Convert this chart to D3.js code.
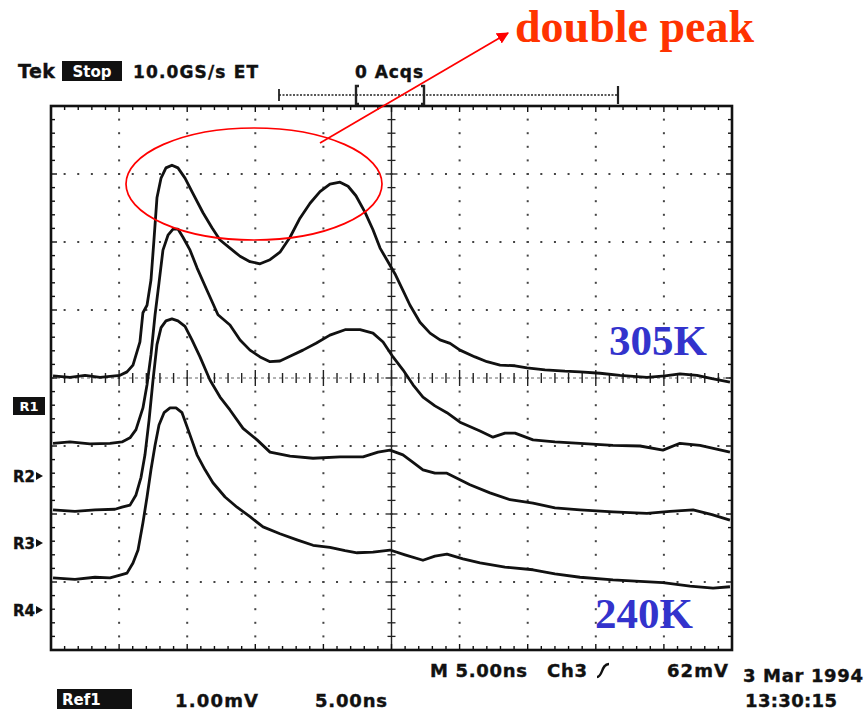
<!DOCTYPE html>
<html>
<head>
<meta charset="utf-8">
<script src="https://cdn.jsdelivr.net/npm/d3@7"></script>
<style>
  body { margin: 0; background: #fff; }
  .scope { font-family: "DejaVu Sans", sans-serif; font-weight: bold; fill: #111; stroke: #111; stroke-width: 0.4; }
  .note { font-family: "Liberation Serif", "Times New Roman", serif; font-weight: bold; }
</style>
</head>
<body>
<script>
// traces: [time in ns, level in divisions (1 div = 1 mV)]
const traceR1 = [
  [0.15,0.03],[1.39,0.01],[2.50,0.04],[3.60,0.01],[5.07,0.04],[5.58,0.09],[6.02,0.19],[6.53,0.53],
  [6.75,0.96],[7.05,1.07],[7.34,1.44],[7.56,2.03],[7.78,2.65],[8.08,2.94],[8.44,3.09],[8.88,3.13],
  [9.32,3.09],[9.84,2.94],[10.35,2.74],[11.16,2.43],[11.82,2.21],[12.41,2.03],[13.14,1.91],[13.88,1.79],
  [14.61,1.71],[15.35,1.68],[16.08,1.74],[16.81,1.85],[17.55,2.07],[18.28,2.35],[19.02,2.57],[19.75,2.74],
  [20.48,2.85],[21.22,2.88],[21.81,2.82],[22.39,2.68],[23.05,2.44],[23.64,2.18],[24.16,1.91],[24.74,1.71],
  [25.26,1.53],[25.84,1.29],[26.36,1.07],[27.09,0.82],[27.83,0.66],[28.56,0.56],[29.30,0.51],[30.03,0.41],
  [31.13,0.31],[32.01,0.24],[32.97,0.19],[34.07,0.18],[34.95,0.15],[36.27,0.12],[37.74,0.10],[38.84,0.09],
  [40.31,0.07],[41.78,0.04],[43.76,0.01],[45.08,0.03],[46.18,0.06],[47.43,0.04],[48.53,-0.01],[49.85,-0.06]
];
const traceR2 = [
  [0.15,-0.96],[1.39,-0.94],[2.86,-0.97],[4.33,-0.96],[5.21,-0.94],[5.80,-0.88],[6.24,-0.76],[6.75,-0.44],
  [7.05,-0.10],[7.34,0.34],[7.64,0.93],[7.93,1.40],[8.22,1.88],[8.59,2.10],[8.96,2.19],[9.32,2.19],
  [9.69,2.07],[10.21,1.88],[10.72,1.62],[11.45,1.29],[12.26,0.93],[13.14,0.78],[13.88,0.56],[14.61,0.41],
  [15.35,0.31],[16.08,0.24],[16.81,0.25],[17.55,0.32],[18.50,0.41],[19.46,0.51],[20.48,0.63],[21.59,0.71],
  [22.69,0.71],[23.64,0.66],[24.38,0.53],[25.11,0.31],[25.84,0.12],[26.58,-0.10],[27.31,-0.28],[28.19,-0.41],
  [29.07,-0.51],[30.03,-0.65],[31.50,-0.78],[32.45,-0.87],[33.33,-0.81],[34.07,-0.81],[35.39,-0.91],[37.00,-0.94],
  [38.84,-0.96],[41.26,-0.99],[43.25,-1.00],[44.93,-1.06],[46.18,-0.96],[47.65,-0.99],[49.85,-1.09]
];
const traceR3 = [
  [0.15,-1.94],[1.76,-1.96],[3.23,-1.94],[4.70,-1.93],[5.21,-1.90],[5.80,-1.87],[6.24,-1.72],[6.61,-1.46],
  [6.90,-1.13],[7.20,-0.62],[7.49,-0.03],[7.78,0.49],[8.08,0.74],[8.44,0.84],[8.88,0.87],[9.32,0.84],
  [9.84,0.76],[10.35,0.56],[10.94,0.31],[11.67,-0.03],[12.41,-0.28],[13.14,-0.47],[14.10,-0.74],[15.13,-0.91],
  [16.08,-1.09],[17.55,-1.15],[19.24,-1.18],[21.22,-1.16],[22.91,-1.16],[24.01,-1.09],[24.89,-1.06],[25.84,-1.13],
  [26.58,-1.24],[27.31,-1.35],[28.19,-1.40],[29.07,-1.40],[30.76,-1.57],[32.23,-1.69],[33.70,-1.79],[35.39,-1.84],
  [37.00,-1.91],[38.84,-1.94],[41.26,-1.97],[43.76,-1.99],[45.45,-1.96],[47.14,-1.94],[48.53,-2.01],[49.85,-2.09]
];
const traceR4 = [
  [0.15,-2.94],[1.76,-2.96],[3.23,-2.93],[4.33,-2.94],[5.07,-2.90],[5.58,-2.87],[6.02,-2.72],[6.39,-2.53],
  [6.75,-2.13],[7.05,-1.75],[7.34,-1.35],[7.64,-0.99],[7.93,-0.69],[8.30,-0.51],[8.74,-0.44],[9.18,-0.44],
  [9.62,-0.51],[10.21,-0.84],[10.72,-1.13],[11.31,-1.35],[11.89,-1.54],[12.78,-1.75],[13.66,-1.90],[14.61,-2.04],
  [15.57,-2.19],[16.81,-2.29],[18.06,-2.38],[19.24,-2.46],[20.48,-2.49],[21.59,-2.54],[22.47,-2.57],[23.64,-2.56],
  [24.89,-2.53],[25.99,-2.60],[27.31,-2.68],[28.19,-2.62],[29.07,-2.59],[30.25,-2.66],[31.50,-2.72],[33.33,-2.78],
  [35.39,-2.82],[37.00,-2.88],[38.84,-2.93],[41.26,-2.97],[43.25,-2.99],[44.93,-3.01],[46.92,-3.06],[48.61,-3.09],
  [49.85,-3.07]
];
const traces = [traceR1, traceR2, traceR3, traceR4];
const refNames = ["R1", "R2", "R3", "R4"];
const tempLabels = ["305K", "240K"];
const timeDomain = [0, 50];   // 10 div x 5.00 ns
const levelDomain = [-4, 4];  // 8 div x 1.00 mV

const W = 865, H = 715;
const svg = d3.select("body").append("svg")
    .attr("width", W).attr("height", H)
    .style("background", "#fff");

// scope screen scales
const x = d3.scaleLinear().domain(timeDomain).range([51, 732]);
const y = d3.scaleLinear().domain(levelDomain).range([650, 106]);

const majorT = d3.range(timeDomain[0], timeDomain[1] + 0.01, 5);
const minorT = d3.range(timeDomain[0], timeDomain[1] + 0.01, 1);
const majorV = d3.range(levelDomain[0], levelDomain[1] + 0.01, 1);
const minorV = d3.range(levelDomain[0], levelDomain[1] + 0.01, 0.2);

const grid = svg.append("g");

// dotted graticule lines
majorT.slice(1, -1).filter(t => t !== 25).forEach(t => {
  grid.selectAll(null).data(minorV).enter().append("rect")
    .attr("x", x(t) - 1).attr("y", d => y(d) - 1)
    .attr("width", 2).attr("height", 2)
    .attr("fill", "#444");
});
majorV.slice(1, -1).filter(v => v !== 0).forEach(v => {
  grid.selectAll(null).data(minorT).enter().append("rect")
    .attr("x", d => x(d) - 1).attr("y", y(v) - 1)
    .attr("width", 2).attr("height", 2)
    .attr("fill", "#444");
});

// centre lines with ticks
grid.append("line")
  .attr("x1", x(25)).attr("x2", x(25)).attr("y1", y(4)).attr("y2", y(-4))
  .attr("stroke", "#222").attr("stroke-width", 1.4);
grid.selectAll(".vtick").data(minorV).enter().append("line")
  .attr("class", "vtick")
  .attr("x1", d => x(25) - (Math.abs(d % 1) < 0.01 ? 6 : 4))
  .attr("x2", d => x(25) + (Math.abs(d % 1) < 0.01 ? 6 : 4))
  .attr("y1", d => y(d)).attr("y2", d => y(d))
  .attr("stroke", "#222").attr("stroke-width", 1.3);

grid.append("line")
  .attr("x1", x(0)).attr("x2", x(50)).attr("y1", y(0)).attr("y2", y(0))
  .attr("stroke", "#666").attr("stroke-width", 1).attr("stroke-dasharray", "3,3");
grid.selectAll(".htick").data(minorT).enter().append("line")
  .attr("class", "htick")
  .attr("x1", d => x(d)).attr("x2", d => x(d))
  .attr("y1", d => y(0) - (d % 5 === 0 ? 8 : 5))
  .attr("y2", d => y(0) + (d % 5 === 0 ? 8 : 5))
  .attr("stroke", "#222").attr("stroke-width", 1.4);

// border ticks
const tickLen = d => (d % 5 === 0 ? 6 : 4);
const tickLenV = d => (Math.abs(d % 1) < 0.01 ? 6 : 4);
grid.selectAll(".bt").data(minorT).enter().append("line")
  .attr("x1", d => x(d)).attr("x2", d => x(d))
  .attr("y1", y(-4)).attr("y2", d => y(-4) - tickLen(d))
  .attr("stroke", "#111").attr("stroke-width", 1.4);
grid.selectAll(".tt").data(minorT).enter().append("line")
  .attr("x1", d => x(d)).attr("x2", d => x(d))
  .attr("y1", y(4)).attr("y2", d => y(4) + tickLen(d))
  .attr("stroke", "#111").attr("stroke-width", 1.4);
grid.selectAll(".lt").data(minorV).enter().append("line")
  .attr("x1", x(0)).attr("x2", d => x(0) + tickLenV(d))
  .attr("y1", d => y(d)).attr("y2", d => y(d))
  .attr("stroke", "#111").attr("stroke-width", 1.4);
grid.selectAll(".rt").data(minorV).enter().append("line")
  .attr("x1", x(50)).attr("x2", d => x(50) - tickLenV(d))
  .attr("y1", d => y(d)).attr("y2", d => y(d))
  .attr("stroke", "#111").attr("stroke-width", 1.4);

grid.append("rect")
  .attr("x", x(0)).attr("y", y(4))
  .attr("width", x(50) - x(0)).attr("height", y(-4) - y(4))
  .attr("fill", "none").attr("stroke", "#111").attr("stroke-width", 2.6);

// traces
const line = d3.line().x(d => x(d[0])).y(d => y(d[1]));
svg.append("g").selectAll("path").data(traces).enter().append("path")
  .attr("d", line)
  .attr("fill", "none")
  .attr("stroke", "#111")
  .attr("stroke-width", 2.8)
  .attr("stroke-linejoin", "round");

// header
svg.append("text").attr("class", "scope").attr("x", 18).attr("y", 78)
  .attr("font-size", 19).attr("textLength", 37).text("Tek");
svg.append("rect").attr("x", 62).attr("y", 61).attr("width", 60).attr("height", 20).attr("fill", "#111");
svg.append("text").attr("class", "scope").attr("x", 92).attr("y", 77)
  .attr("text-anchor", "middle").attr("font-size", 15).style("fill", "#fff").style("stroke", "none").text("Stop");
svg.append("text").attr("class", "scope").attr("x", 133).attr("y", 78)
  .attr("font-size", 17).attr("textLength", 125).text("10.0GS/s ET");
svg.append("text").attr("class", "scope").attr("x", 355).attr("y", 78)
  .attr("font-size", 17).attr("textLength", 68).text("0 Acqs");

// record-length bar
const bar = svg.append("g").attr("stroke", "#222");
bar.append("line").attr("x1", 279).attr("x2", 618).attr("y1", 95).attr("y2", 95)
  .attr("stroke-width", 1.3).attr("stroke-dasharray", "2,1.5");
bar.append("line").attr("x1", 279).attr("x2", 279).attr("y1", 89).attr("y2", 101).attr("stroke-width", 1.8);
bar.append("line").attr("x1", 618).attr("x2", 618).attr("y1", 86).attr("y2", 104).attr("stroke-width", 2.2);
bar.append("path").attr("d", "M359,86 H356 V104 H359").attr("fill", "none").attr("stroke-width", 2.4);
bar.append("path").attr("d", "M421,86 H424 V104 H421").attr("fill", "none").attr("stroke-width", 2.4);

// reference markers on the left
svg.append("rect").attr("x", 13).attr("y", 397).attr("width", 32).attr("height", 18).attr("fill", "#111");
svg.append("text").attr("class", "scope").attr("x", 29).attr("y", 411)
  .attr("text-anchor", "middle").attr("font-size", 13).style("fill", "#fff").style("stroke", "none").text(refNames[0]);
const refBase = [482, 549, 616];
refNames.slice(1).forEach((r, i) => {
  svg.append("text").attr("class", "scope").attr("x", 13).attr("y", refBase[i])
    .attr("font-size", 15).text(r);
  svg.append("path")
    .attr("d", `M36,${refBase[i] - 10} L43,${refBase[i] - 6} L36,${refBase[i] - 2} Z`)
    .attr("fill", "#111");
});

// bottom readouts
svg.append("text").attr("class", "scope").attr("x", 430).attr("y", 677)
  .attr("font-size", 18).attr("textLength", 97).text("M 5.00ns");
svg.append("text").attr("class", "scope").attr("x", 547).attr("y", 677)
  .attr("font-size", 18).attr("textLength", 40).text("Ch3");
svg.append("path").attr("d", "M597,677 C603,677 601,664 609,664")
  .attr("fill", "none").attr("stroke", "#111").attr("stroke-width", 2.4);
svg.append("text").attr("class", "scope").attr("x", 667).attr("y", 677)
  .attr("font-size", 18).attr("textLength", 61).text("62mV");
svg.append("text").attr("class", "scope").attr("x", 743).attr("y", 682)
  .attr("font-size", 18).attr("textLength", 120).text("3 Mar 1994");
svg.append("text").attr("class", "scope").attr("x", 745).attr("y", 707)
  .attr("font-size", 18).attr("textLength", 92).text("13:30:15");

svg.append("rect").attr("x", 57).attr("y", 689).attr("width", 75).attr("height", 20).attr("fill", "#111");
svg.append("text").attr("class", "scope").attr("x", 62).attr("y", 705)
  .attr("font-size", 15).style("fill", "#fff").style("stroke", "none").text("Ref1");
svg.append("text").attr("class", "scope").attr("x", 175).attr("y", 707)
  .attr("font-size", 18).attr("textLength", 83).text("1.00mV");
svg.append("text").attr("class", "scope").attr("x", 315).attr("y", 707)
  .attr("font-size", 18).attr("textLength", 72).text("5.00ns");

// annotation: ellipse, arrow, labels
svg.append("defs").append("marker")
  .attr("id", "arrow").attr("viewBox", "0 0 10 10")
  .attr("refX", 9).attr("refY", 5)
  .attr("markerWidth", 7).attr("markerHeight", 7)
  .attr("orient", "auto")
  .append("path").attr("d", "M0,0 L10,5 L0,10 Z").attr("fill", "#f00");

svg.append("ellipse")
  .attr("cx", 254).attr("cy", 184).attr("rx", 128).attr("ry", 56)
  .attr("fill", "none").attr("stroke", "#f00").attr("stroke-width", 1.7);
svg.append("line")
  .attr("x1", 320).attr("y1", 143).attr("x2", 508).attr("y2", 33)
  .attr("stroke", "#f00").attr("stroke-width", 1.7)
  .attr("marker-end", "url(#arrow)");

svg.append("text").attr("class", "note").attr("x", 515).attr("y", 42)
  .attr("font-size", 46).style("fill", "#ff3300").text("double peak");
svg.append("text").attr("class", "note").attr("x", 609).attr("y", 355)
  .attr("font-size", 43).style("fill", "#3333cc").text(tempLabels[0]);
svg.append("text").attr("class", "note").attr("x", 595).attr("y", 628)
  .attr("font-size", 43).style("fill", "#3333cc").text(tempLabels[1]);
</script>
</body>
</html>
